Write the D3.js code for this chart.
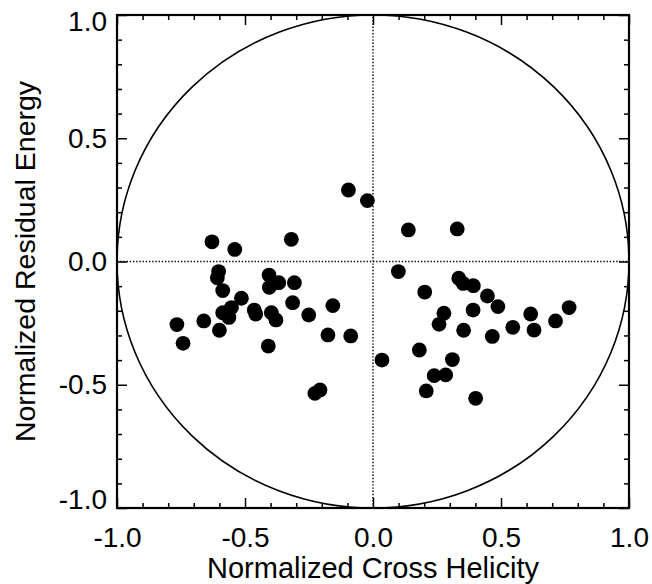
<!DOCTYPE html>
<html>
<head>
<meta charset="utf-8">
<script src="https://cdn.jsdelivr.net/npm/d3@7"></script>
<style>
  body { margin: 0; background: #fff; }
  svg text { font-family: "Liberation Sans", Arial, Helvetica, sans-serif; fill: #000; }
</style>
</head>
<body>
<svg id="chart"></svg>
<script>
// values
var crossHelicity = [
  -0.096, -0.022, -0.629, -0.540, -0.319, 0.138, 0.329,
  -0.603, -0.608, -0.587, -0.406, -0.405, -0.368, -0.307, -0.514, -0.553,
  -0.587, -0.563, -0.464, -0.458, -0.397, -0.379, -0.314, -0.251, -0.157,
  -0.766, -0.661, -0.600, -0.742, -0.409, -0.176, -0.087, -0.227, -0.207,
  0.099, 0.335, 0.352, 0.392, 0.202, 0.447, 0.488, 0.391, 0.277, 0.258,
  0.354, 0.466, 0.546, 0.616, 0.629, 0.713, 0.766, 0.035, 0.181, 0.310,
  0.239, 0.284, 0.208, 0.401
];
var residualEnergy = [
  0.290, 0.247, 0.080, 0.049, 0.090, 0.128, 0.132,
  -0.041, -0.066, -0.118, -0.055, -0.105, -0.086, -0.086, -0.149, -0.187,
  -0.208, -0.227, -0.197, -0.213, -0.208, -0.237, -0.167, -0.217, -0.179,
  -0.256, -0.241, -0.279, -0.332, -0.343, -0.298, -0.302, -0.535, -0.521,
  -0.041, -0.068, -0.089, -0.098, -0.124, -0.140, -0.183, -0.197, -0.210, -0.255,
  -0.279, -0.304, -0.267, -0.213, -0.278, -0.241, -0.187, -0.400, -0.359, -0.398,
  -0.463, -0.460, -0.525, -0.555
];
var majorTicks = [-1.0, -0.5, 0.0, 0.5, 1.0];
var minorTicks = [-0.9, -0.8, -0.7, -0.6, -0.4, -0.3, -0.2, -0.1,
                  0.1, 0.2, 0.3, 0.4, 0.6, 0.7, 0.8, 0.9];
var xTitle = "Normalized Cross Helicity";
var yTitle = "Normalized Residual Energy";

var svgWidth = 652, svgHeight = 584;
var plotLeft = 117, plotRight = 629, plotTop = 15, plotBottom = 508;

var svg = d3.select("#chart")
    .attr("width", svgWidth)
    .attr("height", svgHeight);

var x = d3.scaleLinear().domain([-1, 1]).range([plotLeft, plotRight]);
var y = d3.scaleLinear().domain([-1, 1]).range([plotBottom, plotTop]);

// plain hyphen for the minus sign, like the original
var fmt = function(d) { return d3.format(".1f")(d).replace("\u2212", "-"); };

function addAxis(axis, tx, ty, vals, size, labels, pad) {
  var g = svg.append("g")
    .attr("transform", "translate(" + tx + "," + ty + ")")
    .call(axis.tickValues(vals).tickSize(-size).tickSizeOuter(0)
      .tickPadding(pad || 0)
      .tickFormat(labels ? fmt : ""));
  g.select(".domain").remove();
  g.selectAll(".tick line").attr("stroke", "#000").attr("stroke-width", 1.5);
  g.selectAll("text").style("font-size", "28px").attr("fill", "#000");
  return g;
}

var xAxisG = addAxis(d3.axisBottom(x), 0, plotBottom, majorTicks, 10, true, 19);
addAxis(d3.axisBottom(x), 0, plotBottom, minorTicks, 5, false);
addAxis(d3.axisTop(x), 0, plotTop, majorTicks, 10, false);
addAxis(d3.axisTop(x), 0, plotTop, minorTicks, 5, false);
var yAxisG = addAxis(d3.axisLeft(y), plotLeft, 0, majorTicks, 10, true, 10);
addAxis(d3.axisLeft(y), plotLeft, 0, minorTicks, 5, false);
addAxis(d3.axisRight(y), plotRight, 0, majorTicks, 10, false);
addAxis(d3.axisRight(y), plotRight, 0, minorTicks, 5, false);

// end labels on the y axis sit inside the frame
yAxisG.selectAll(".tick text")
  .attr("transform", function(d) {
    if (d === 1) return "translate(0,7)";
    if (d === -1) return "translate(0,-8)";
    return null;
  });

// dotted zero lines
svg.append("line")
  .attr("x1", x(0)).attr("x2", x(0))
  .attr("y1", y(-1)).attr("y2", y(1))
  .attr("stroke", "#000").attr("stroke-width", 1.4)
  .attr("stroke-dasharray", "1.4,1.8");
svg.append("line")
  .attr("x1", x(-1)).attr("x2", x(1))
  .attr("y1", y(0)).attr("y2", y(0))
  .attr("stroke", "#000").attr("stroke-width", 1.4)
  .attr("stroke-dasharray", "1.4,1.8");

// unit circle
svg.append("ellipse")
  .attr("cx", x(0)).attr("cy", y(0))
  .attr("rx", x(1) - x(0)).attr("ry", y(0) - y(1))
  .attr("fill", "none")
  .attr("stroke", "#000")
  .attr("stroke-width", 1.6);

// frame
svg.append("rect")
  .attr("x", plotLeft).attr("y", plotTop)
  .attr("width", plotRight - plotLeft).attr("height", plotBottom - plotTop)
  .attr("fill", "none")
  .attr("stroke", "#000")
  .attr("stroke-width", 2.2);

// points
svg.append("g")
  .selectAll("circle")
  .data(d3.range(crossHelicity.length))
  .enter()
  .append("circle")
    .attr("cx", function(i) { return x(crossHelicity[i]); })
    .attr("cy", function(i) { return y(residualEnergy[i]); })
    .attr("r", 7.4)
    .attr("fill", "#000");

// axis titles
svg.append("text")
  .attr("x", (plotLeft + plotRight) / 2)
  .attr("y", 578)
  .attr("text-anchor", "middle")
  .style("font-size", "29px")
  .text(xTitle);

svg.append("text")
  .attr("transform", "translate(35," + ((plotTop + plotBottom) / 2) + ") rotate(-90)")
  .attr("text-anchor", "middle")
  .style("font-size", "28.5px")
  .text(yTitle);
</script>
</body>
</html>
